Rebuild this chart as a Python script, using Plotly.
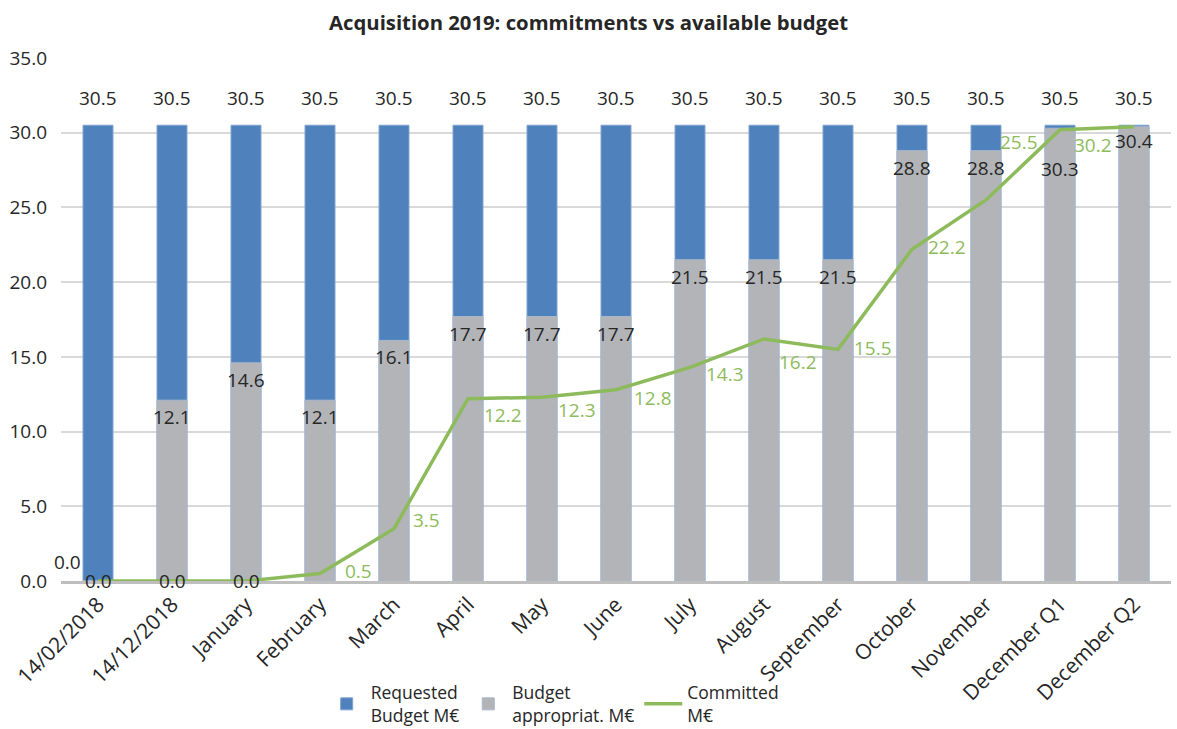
import plotly.graph_objects as go

categories = ["14/02/2018", "14/12/2018", "January", "February", "March", "April", "May",
              "June", "July", "August", "September", "October", "November",
              "December Q1", "December Q2"]
requested = [30.5] * 15
appropriated = [0.0, 12.1, 14.6, 12.1, 16.1, 17.7, 17.7, 17.7, 21.5, 21.5, 21.5, 28.8, 28.8, 30.3, 30.4]
committed = [0.0, 0.0, 0.0, 0.5, 3.5, 12.2, 12.3, 12.8, 14.3, 16.2, 15.5, 22.2, 25.5, 30.2, 30.4]

BLUE = "#4F81BD"
GREY = "#B3B4B7"
GREEN = "#8DBB5C"
TXT = "#262626"
FONT = "Open Sans"
FS = 19

# label pixel offsets for committed labels (style only)
green_dy = [0, 0, 0, -3, -9, 16, 13, 8, 7, 23, -1, -2, -58, 15, None]
green_dx = [0, 0, 0, 26, 20, 17, 17, 19, 17, 16, 17, 17, 15, 15, 0]

fig = go.Figure()
fig.add_trace(go.Bar(x=categories, y=requested, name="Requested<br>Budget M€",
                     marker=dict(color=BLUE, line=dict(color="#7FA3CF", width=1)),
                     width=0.405))
fig.add_trace(go.Bar(x=categories, y=appropriated, name="Budget<br>appropriat. M€",
                     marker=dict(color=GREY, line=dict(color="#A9B8CC", width=1)),
                     width=0.405))
fig.add_trace(go.Scatter(x=categories, y=committed, name="Committed<br>M€", mode="lines",
                         line=dict(color=GREEN, width=3.5)))

ann = []
for i, c in enumerate(categories):
    ann.append(dict(x=c, y=requested[i], text=f"{requested[i]:.1f}", showarrow=False,
                    yanchor="middle", yshift=27, font=dict(size=FS, color=TXT, family=FONT)))
    if appropriated[i] > 0:
        extra = -24 if i == 13 else (3 if i == 14 else 0)
        ann.append(dict(x=c, y=appropriated[i], text=f"{appropriated[i]:.1f}", showarrow=False,
                        yanchor="middle", yshift=-17 + extra,
                        font=dict(size=FS, color=TXT, family=FONT)))
    else:
        ann.append(dict(x=c, y=appropriated[i], text=f"{appropriated[i]:.1f}", showarrow=False,
                        xanchor="center", yanchor="middle", xshift=-31, yshift=19,
                        font=dict(size=FS, color=TXT, family=FONT)))
    if green_dy[i] is None:
        continue
    if committed[i] == 0:
        ann.append(dict(x=c, y=committed[i], text=f"{committed[i]:.1f}", showarrow=False,
                        yanchor="middle", yshift=0, font=dict(size=FS, color=TXT, family=FONT)))
    else:
        ann.append(dict(x=c, y=committed[i], text=f"{committed[i]:.1f}", showarrow=False,
                        xanchor="left", yanchor="middle", xshift=green_dx[i] - 3, yshift=-green_dy[i],
                        font=dict(size=FS, color=GREEN, family=FONT)))

fig.update_layout(
    barmode="overlay",
    width=1177, height=729,
    margin=dict(l=61, r=6, t=58, b=147.5, autoexpand=False),
    paper_bgcolor="white", plot_bgcolor="white",
    font=dict(family=FONT, size=FS, color=TXT),
    title=dict(text="<b>Acquisition 2019: commitments vs available budget</b>",
               x=0.5, xanchor="center", y=0.968, yanchor="middle",
               font=dict(size=20.3, color=TXT, family=FONT)),
    showlegend=True,
    legend=dict(orientation="h", x=0.4434, xanchor="center", y=-0.179, yanchor="top",
                itemwidth=38,
                font=dict(size=17.5, color=TXT, family=FONT), bgcolor="rgba(0,0,0,0)",
                traceorder="normal"),
    annotations=ann,
)
fig.update_yaxes(range=[0, 35], dtick=5, tickformat=".1f", showgrid=True, automargin=False,
                 gridcolor="#D9D9D9", gridwidth=1.5, zeroline=False, showline=False,
                 ticks="", ticklabelstandoff=13, tickfont=dict(size=FS, color=TXT, family=FONT))
fig.update_xaxes(range=[-0.5, 14.5], autorange=False, tickangle=-45, showline=True,
                 linecolor="#BFBFBF", linewidth=3, automargin=False,
                 ticks="", tickfont=dict(size=21, color=TXT, family=FONT))

fig.write_html("out.html", post_script="document.body.style.margin='0';",
               config={"displayModeBar": False})
